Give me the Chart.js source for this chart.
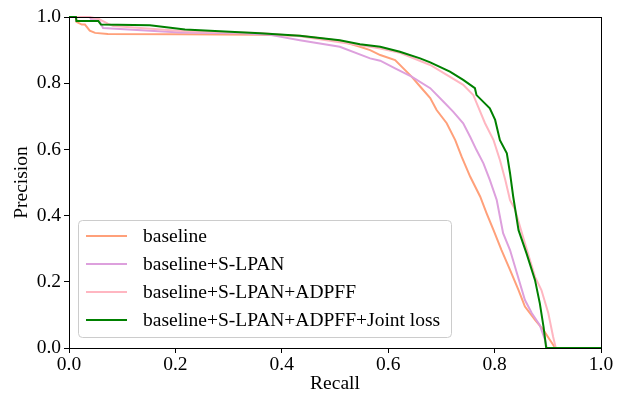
<!DOCTYPE html>
<html>
<head>
<meta charset="utf-8">
<script src="https://cdn.jsdelivr.net/npm/chart.js@4.4.1/dist/chart.umd.min.js"></script>
<style>
html,body{margin:0;padding:0;background:#fff;}
#wrap{width:625px;height:394px;position:relative;}
</style>
</head>
<body>
<div id="wrap"><canvas id="c" width="625" height="394"></canvas></div>
<script>
const seriesNames = ["baseline", "baseline+S-LPAN", "baseline+S-LPAN+ADPFF", "baseline+S-LPAN+ADPFF+Joint loss"];
const seriesColors = ["#FFA07A", "#DDA0DD", "#FFB6C1", "#008000"];
const xTickLabels = ["0.0","0.2","0.4","0.6","0.8","1.0"];
const yTickLabels = ["0.0","0.2","0.4","0.6","0.8","1.0"];

const baselineRecall    = [0,0.013,0.014,0.024,0.03,0.039,0.049,0.073,0.209,0.359,0.434,0.509,0.547,0.566,0.585,0.613,0.644,0.66,0.679,0.691,0.71,0.726,0.738,0.754,0.773,0.785,0.798,0.813,0.829,0.845,0.857,0.876,0.892,0.904,0.914,1.0];
const baselinePrecision = [1,1,0.985,0.977,0.977,0.959,0.952,0.949,0.948,0.946,0.943,0.928,0.91,0.9,0.885,0.87,0.82,0.79,0.755,0.719,0.679,0.628,0.578,0.518,0.457,0.407,0.356,0.296,0.236,0.175,0.125,0.085,0.054,0.024,0,0];

const slpanRecall    = [0,0.039,0.041,0.055,0.064,0.209,0.321,0.378,0.434,0.509,0.566,0.585,0.613,0.644,0.679,0.704,0.722,0.741,0.754,0.766,0.779,0.791,0.804,0.816,0.829,0.842,0.857,0.87,0.885,0.895,0.898,1.0];
const slpanPrecision = [1,1,0.995,0.995,0.967,0.953,0.951,0.946,0.93,0.91,0.875,0.868,0.845,0.82,0.785,0.744,0.714,0.679,0.638,0.598,0.558,0.508,0.447,0.347,0.296,0.226,0.145,0.105,0.069,0.024,0,0];

const adpffRecall    = [0,0.039,0.056,0.073,0.083,0.218,0.359,0.434,0.509,0.566,0.585,0.622,0.679,0.71,0.741,0.76,0.769,0.782,0.798,0.81,0.82,0.829,0.838,0.857,0.876,0.888,0.901,0.91,0.915,1.0];
const adpffPrecision = [1,1,0.994,0.98,0.973,0.957,0.952,0.942,0.924,0.91,0.905,0.892,0.855,0.825,0.795,0.764,0.729,0.679,0.628,0.568,0.508,0.447,0.42,0.316,0.215,0.175,0.105,0.034,0,0];

const jointRecall    = [0,0.013,0.014,0.055,0.06,0.152,0.218,0.359,0.434,0.509,0.547,0.585,0.622,0.66,0.679,0.716,0.741,0.763,0.766,0.791,0.801,0.81,0.823,0.829,0.835,0.845,0.86,0.876,0.885,0.892,0.897,1.0];
const jointPrecision = [1,1,0.988,0.988,0.977,0.975,0.962,0.951,0.943,0.93,0.918,0.91,0.895,0.875,0.863,0.835,0.81,0.785,0.764,0.724,0.689,0.628,0.588,0.528,0.457,0.356,0.286,0.205,0.135,0.064,0,0];

const recallSets = [baselineRecall, slpanRecall, adpffRecall, jointRecall];
const precisionSets = [baselinePrecision, slpanPrecision, adpffPrecision, jointPrecision];

const FONT = "'Liberation Serif','Times New Roman',serif";
const FS = 19.5;

const datasets = seriesNames.map((name, i) => ({
  label: name,
  data: recallSets[i].map((r, k) => ({x: r, y: precisionSets[i][k]})),
  borderColor: seriesColors[i],
  backgroundColor: seriesColors[i],
  borderWidth: 2,
  pointRadius: 0,
  tension: 0,
  fill: false,
  showLine: true,
  clip: false,
  order: seriesNames.length - 1 - i
}));

const framePlugin = {
  id: 'frame',
  afterDatasetsDraw(chart) {
    const {ctx, chartArea: a} = chart;
    ctx.save();
    ctx.strokeStyle = '#000';
    ctx.lineWidth = 1;
    ctx.strokeRect(Math.round(a.left) + 0.5, Math.round(a.top) + 0.5, Math.round(a.right - a.left), Math.round(a.bottom - a.top));
    ctx.restore();
  }
};

const legendPlugin = {
  id: 'boxLegend',
  afterDraw(chart) {
    const ctx = chart.ctx;
    const bx = 78.5, by = 220.5, bw = 373, bh = 117, r = 4;
    ctx.save();
    ctx.beginPath();
    ctx.moveTo(bx + r, by);
    ctx.lineTo(bx + bw - r, by);
    ctx.arcTo(bx + bw, by, bx + bw, by + r, r);
    ctx.lineTo(bx + bw, by + bh - r);
    ctx.arcTo(bx + bw, by + bh, bx + bw - r, by + bh, r);
    ctx.lineTo(bx + r, by + bh);
    ctx.arcTo(bx, by + bh, bx, by + bh - r, r);
    ctx.lineTo(bx, by + r);
    ctx.arcTo(bx, by, bx + r, by, r);
    ctx.closePath();
    ctx.fillStyle = 'rgba(255,255,255,0.8)';
    ctx.fill();
    ctx.strokeStyle = '#cccccc';
    ctx.lineWidth = 1;
    ctx.stroke();
    ctx.font = FS + "px " + FONT;
    ctx.textBaseline = 'middle';
    ctx.fillStyle = '#000';
    seriesNames.forEach((name, i) => {
      const y = 236 + i * 28;
      ctx.beginPath();
      ctx.strokeStyle = seriesColors[i];
      ctx.lineWidth = 2;
      ctx.moveTo(86, y);
      ctx.lineTo(127, y);
      ctx.stroke();
      ctx.fillStyle = '#000';
      ctx.fillText(name, 143, y + 1);
    });
    ctx.restore();
  }
};

new Chart(document.getElementById('c'), {
  type: 'scatter',
  data: { datasets },
  plugins: [framePlugin, legendPlugin],
  options: {
    responsive: false,
    animation: false,
    devicePixelRatio: 1,
    layout: { padding: { left: 0, right: 24, top: 17, bottom: 0 } },
    plugins: { legend: { display: false }, tooltip: { enabled: false } },
    scales: {
      x: {
        type: 'linear', min: 0, max: 1,
        afterBuildTicks(s) { s.ticks = xTickLabels.map(v => ({value: parseFloat(v)})); },
        afterFit(s) { s.height = 46; },
        ticks: { callback: (v, i) => xTickLabels[i], color: '#000', font: { family: FONT, size: FS }, padding: 0, maxRotation: 0, autoSkip: false },
        grid: { drawOnChartArea: false, drawTicks: true, tickLength: 5, color: '#000' },
        border: { display: true, color: '#000', width: 1 },
        title: { display: true, text: 'Recall', color: '#000', font: { family: FONT, size: FS, lineHeight: 1 }, padding: { top: 0, bottom: 0 } }
      },
      y: {
        type: 'linear', min: 0, max: 1,
        afterBuildTicks(s) { s.ticks = yTickLabels.map(v => ({value: parseFloat(v)})); },
        afterFit(s) { s.width = 69; },
        ticks: { callback: (v, i) => yTickLabels[i], color: '#000', font: { family: FONT, size: FS }, padding: 3, autoSkip: false },
        grid: { drawOnChartArea: false, drawTicks: true, tickLength: 5, color: '#000' },
        border: { display: true, color: '#000', width: 1 },
        title: { display: true, text: 'Precision', color: '#000', font: { family: FONT, size: FS, lineHeight: 1 }, padding: { top: 12, bottom: 0 } }
      }
    }
  }
});
</script>
</body>
</html>
